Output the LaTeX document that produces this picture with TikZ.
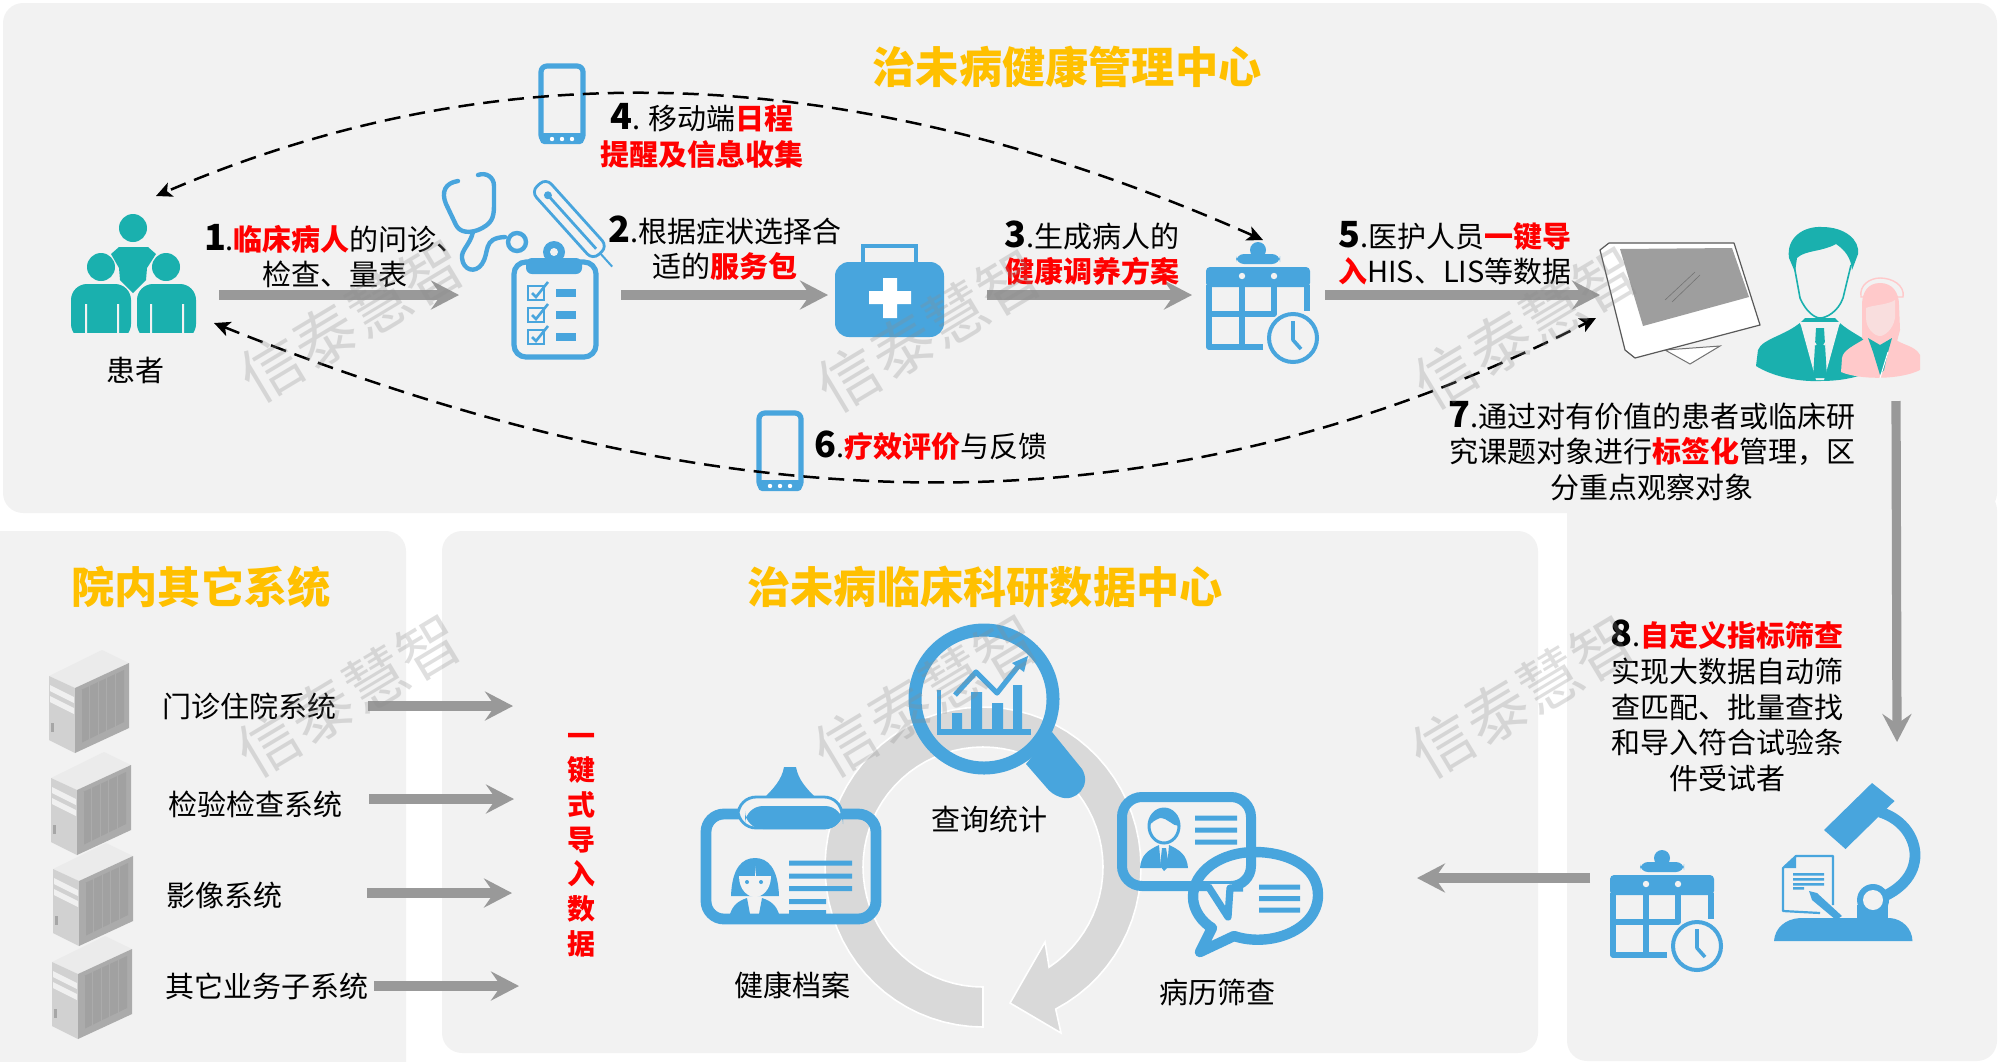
\documentclass[tikz,border=0pt]{standalone}
\usepackage{fontspec}
\setmainfont{Noto Sans CJK SC}
\usetikzlibrary{arrows.meta}
\definecolor{panelc}{HTML}{F2F2F2}
\definecolor{blueic}{HTML}{48A5DD}
\definecolor{tealic}{HTML}{1AB0AE}
\definecolor{pinkic}{HTML}{FFC9CA}
\definecolor{titlec}{HTML}{FFC000}
\definecolor{arrowc}{HTML}{999999}
\definecolor{redc}{HTML}{FF0000}
\newcommand{\hl}[1]{\textcolor{redc}{\bfseries #1}}
\newcommand{\nm}[1]{{\fontsize{18}{18}\selectfont\bfseries #1}}
\tikzset{
 panel/.style={fill=panelc,draw=none,rounded corners=10pt},
 bigarrow/.style={draw=arrowc,line width=4.6pt,-{Stealth[length=14pt,width=14.5pt,inset=5pt]}},
 dasharrow/.style={draw=black,line width=1.25pt,dash pattern=on 8pt off 4.5pt,{Stealth[length=8pt,width=7.5pt,inset=2pt]}-{Stealth[length=8pt,width=7.5pt,inset=2pt]}},
 txt/.style={font=\fontsize{14.5}{17.8}\selectfont,align=center,inner sep=0pt,text=black},
 ttl/.style={font=\fontsize{21.6}{24}\selectfont\bfseries,text=titlec,inner sep=0pt},
 wm/.style={font=\fontsize{31}{34}\selectfont,text=black!45,opacity=.28,rotate=31,inner sep=0pt},
}
\newcommand{\calendaricon}[2]{%
 \begin{scope}[shift={(#1,#2)}]
  \fill[blueic] (1258,250) circle (8);
  \fill[blueic,rounded corners=4pt] (1236,254) rectangle (1280,264);
  \fill[blueic,rounded corners=2pt] (1206,267) rectangle (1310,287);
  \fill[panelc] (1242,276) circle (3.2) (1274,276) circle (3.2);
  \draw[blueic,line width=2.6pt,line join=round] (1263,347) -- (1209,347) -- (1209,285) (1307,285) -- (1307,311)
   (1209,314) -- (1274,314) -- (1274,285) (1242,285) -- (1242,347);
  \draw[blueic,line width=2pt] (1293,338) circle (24);
  \draw[blueic,line width=1.8pt,line join=round] (1293,321) -- (1293,340) -- (1301,349);
 \end{scope}}
\newcommand{\servericon}[2]{%
 \begin{scope}[shift={(#1,#2)}]
  \fill[black!8] (102,650) -- (129,663) -- (75,688) -- (49,676) -- cycle;
  \fill[black!18] (49,676) -- (75,688) -- (75,753) -- (49,740) -- cycle;
  \fill[black!33] (75,688) -- (129,663) -- (129,728) -- (75,753) -- cycle;
  \fill[black!37] (81,690) -- (124,670) -- (124,722) -- (81,743) -- cycle;
  \foreach \k in {0,1,2,3,4} \draw[black!33,line width=.4pt] ({81+\k*8.6},{690-\k*4}) -- ++(0,53);
  \fill[black!6] (50,685) -- (74,697) -- (74,703) -- (50,691) -- cycle;
  \fill[black!6] (50,696) -- (74,708) -- (74,714) -- (50,702) -- cycle;
  \fill[black!35] (51,723) rectangle (54,732);
 \end{scope}}
\newcommand{\phoneicon}[2]{%
 \begin{scope}[shift={(#1,#2)}]
  \draw[blueic,line width=2.6pt,rounded corners=3pt] (541,66) rectangle (583,141);
  \fill[blueic,rounded corners=2pt] (540,133) rectangle (584,144);
  \fill[white] (552,139) circle (2.2) (562,139) circle (2.2) (572,139) circle (2.2);
 \end{scope}}
\begin{document}
\begin{tikzpicture}[x=0.5pt,y=-0.5pt]
\useasboundingbox (0,0) rectangle (2000,1061);
% panels
\fill[panel] (3,3) rectangle (1997,513);
\fill[panel] (1567,490) rectangle (1997,1061);
\fill[panel] (-30,531) rectangle (406,1090);
\fill[panel] (442,531) rectangle (1538,1053);

% connector ends
\coordinate (p1) at (219,295); \coordinate (p1e) at (459,295);
\coordinate (p2) at (621,295); \coordinate (p2e) at (828,295);
\coordinate (p3) at (987,295); \coordinate (p3e) at (1192,295);
\coordinate (p5) at (1325,295); \coordinate (p5e) at (1600,295);
\coordinate (c4s) at (1263,240); \coordinate (c4e) at (156,196);
\coordinate (c6s) at (214,323); \coordinate (c6e) at (1596,318);
\coordinate (dn) at (1896,401); \coordinate (dne) at (1897,742);
\coordinate (lf) at (1590,878); \coordinate (lfe) at (1417,878);
\coordinate (s1) at (368,706); \coordinate (s1e) at (513,706);
\coordinate (s2) at (369,799); \coordinate (s2e) at (514,799);
\coordinate (s3) at (367,893); \coordinate (s3e) at (512,893);
\coordinate (s4) at (374,986); \coordinate (s4e) at (519,986);

% ring
\fill[black!15,draw=white,line width=.8pt] plot[domain=90:422.6,samples=70] ({983+158*cos(\x)},{867+160*sin(\x)})
  -- (1061,1033) -- (1010,1003) -- (1045,942)
  -- plot[domain=416.6:90,samples=70] ({983+120*cos(\x)},{867+120*sin(\x)}) -- cycle;

% gray arrows
\draw[bigarrow] (p1) -- (p1e);
\draw[bigarrow] (p2) -- (p2e);
\draw[bigarrow] (p3) -- (p3e);
\draw[bigarrow] (p5) -- (p5e);
\draw[bigarrow] (dn) -- (dne);
\draw[bigarrow] (lf) -- (lfe);
\draw[bigarrow] (s1) -- (s1e);
\draw[bigarrow] (s2) -- (s2e);
\draw[bigarrow] (s3) -- (s3e);
\draw[bigarrow] (s4) -- (s4e);

% patients
\fill[tealic] (133,228) circle (14) (101,267) circle (14) (166,267) circle (14);
\fill[tealic] (119,247) -- (148,247) -- (156,254) -- (147,268) -- (146,280) -- (133,293) -- (120,280) -- (119,268) -- (111,254) -- cycle;
\fill[tealic,rounded corners=8pt] (71,340) -- (71,284) -- (131,284) -- (131,340) -- cycle;
\fill[tealic,rounded corners=8pt] (137,340) -- (137,284) -- (196,284) -- (196,340) -- cycle;
\fill[panelc] (66,333) rectangle (200,345);
\fill[panelc] (85,304) rectangle (87,333) (117,304) rectangle (119,333) (150,304) rectangle (152,333) (182,304) rectangle (184,333);

% stethoscope
\draw[blueic,line width=2.2pt,line cap=round,line join=round]
  (458,181) .. controls (445,183) and (441,192) .. (446,204) -- (456,225) .. controls (460,233) and (470,233) .. (478,230)
  .. controls (492,224) and (494,218) .. (494,205) -- (494,186) .. controls (494,177) and (486,172) .. (478,175)
  (473,232) .. controls (470,245) and (461,250) .. (462,258) .. controls (463,270) and (475,274) .. (482,264)
  .. controls (490,252) and (482,238) .. (505,237);
\draw[blueic,line width=2.2pt] (517,242) circle (9);
% thermometer
\begin{scope}[shift={(572,222)},rotate=-48]
 \draw[blueic,line width=1.4pt,rounded corners=4pt,fill=panelc] (-50,-10) rectangle (42,10);
 \fill[blueic] (-36,0) circle (4);
 \draw[blueic,line width=1.4pt] (-36,0) -- (36,0);
 \draw[blueic,line width=1pt] (42,0) -- (60,0);
\end{scope}
% clipboard
\draw[blueic,line width=2.6pt,rounded corners=6pt,fill=panelc] (514,262) rectangle (596,357);
\fill[blueic] (554,252) circle (11);
\fill[blueic,rounded corners=3pt] (526,258) rectangle (582,274);
\fill[panelc] (554,252) circle (4);
\foreach \yy in {293,315,337}{
 \draw[blueic,line width=1pt] (528,\yy-7) rectangle (544,\yy+7);
 \draw[blueic,line width=1.3pt] (532,\yy) -- (536,\yy+4) -- (548,\yy-11);
 \fill[blueic] (556,\yy-4) rectangle (576,\yy+4);
}
% medkit
\draw[blueic,line width=2.2pt] (863,262) -- (863,246) -- (916,246) -- (916,262);
\fill[blueic,rounded corners=7pt] (835,262) rectangle (944,337);
\fill[white] (883,278) rectangle (897,318) (869,291) rectangle (911,304);
% calendars
\calendaricon{0}{0}
\calendaricon{404}{608}
% phones
\phoneicon{0}{0}
\phoneicon{218}{347}
% monitor
\draw[black!55,fill=white,line width=.5pt] (1665,350) -- (1720,346) -- (1690,364) -- cycle;
\draw[black!65,fill=white,line width=.6pt,line join=round] (1600,250) -- (1609,243) -- (1734,243) -- (1760,325) -- (1635,358) -- (1625,350) -- cycle;
\fill[black!38] (1620,249) -- (1732,248) -- (1749,297) -- (1643,326) -- cycle;
\draw[black!55,line width=.3pt] (1665,300) -- (1695,272) (1672,302) -- (1700,275);
% doctor
\fill[tealic] (1805,318) .. controls (1790,335) and (1762,338) .. (1758,350) -- (1756,366) .. controls (1770,375) and (1795,382) .. (1820,381) .. controls (1840,381) and (1855,378) .. (1870,372) -- (1872,345) .. controls (1860,335) and (1845,330) .. (1835,318) -- cycle;
\fill[panelc] (1800,322) -- (1840,322) -- (1824,380) -- (1816,380) -- cycle;
\fill[tealic] (1816,328) -- (1824,328) -- (1827,378) -- (1813,378) -- cycle;
\draw[tealic,line width=.8pt] (1794,265) -- (1800,298) .. controls (1806,312) and (1815,318) .. (1820,318) .. controls (1826,318) and (1838,312) .. (1843,298) -- (1851,265);
\draw[panelc,line width=.8pt] (1800,322) -- (1816,345) (1840,322) -- (1824,345);
\fill[tealic] (1789,258) .. controls (1786,238) and (1803,226) .. (1822,227) .. controls (1845,227) and (1860,240) .. (1858,254) -- (1852,270) .. controls (1851,258) and (1845,250) .. (1836,244) .. controls (1822,252) and (1805,250) .. (1797,258) -- (1795,272) -- cycle;
% nurse
\draw[pinkic,line width=.7pt] (1861,297) .. controls (1859,285) and (1870,278) .. (1880,278) .. controls (1892,278) and (1905,285) .. (1903,297) -- cycle;
\fill[pinkic] (1880,283) .. controls (1868,283) and (1862,292) .. (1862,305) -- (1862,338) -- (1868,345) -- (1896,345) -- (1900,330) -- (1899,305) .. controls (1899,292) and (1892,283) .. (1880,283) -- cycle;
\fill[panelc!50!pinkic] (1866,308) .. controls (1872,305) and (1888,305) .. (1895,300) -- (1895,318) .. controls (1893,330) and (1884,336) .. (1880,336) .. controls (1874,336) and (1866,328) .. (1866,318) -- cycle;
\fill[pinkic] (1866,338) .. controls (1855,345) and (1843,350) .. (1842,358) -- (1841,372) .. controls (1860,380) and (1900,380) .. (1920,370) -- (1920,355) .. controls (1915,345) and (1900,345) .. (1894,338) -- cycle;
\fill[tealic] (1868,338) -- (1880,345) -- (1892,338) -- (1888,352) -- (1884,370) -- (1880,375) -- (1873,352) -- cycle;
\draw[white,line width=.5pt] (1880,378) -- (1888,352);

% servers
\servericon{0}{0}
\servericon{2}{102}
\servericon{4}{193}
\servericon{3}{286}

% magnifier
\fill[blueic,line join=round] (1026,764) -- (1052,732) -- (1082,769) .. controls (1092,785) and (1076,803) .. (1060,797) .. controls (1054,795) and (1050,792) .. (1046,787) -- cycle;
\draw[blueic,line width=6.5pt] (984,699) circle (69);
\fill[blueic] (937,729) rectangle (1031,735);
\fill[blueic] (937,690) rectangle (941,731);
\fill[blueic] (952,713) rectangle (962,731) (971,692) rectangle (982,731) (992,703) rectangle (1003,731) (1013,685) rectangle (1022,731);
\draw[blueic,line width=2.6pt,line join=round] (955,695) -- (976,672) -- (997,693) -- (1020,664);
\fill[blueic] (1028,656) -- (1012,663) -- (1024,672) -- cycle;

% id card left
\draw[blueic,line width=5.4pt,rounded corners=9pt] (706,814) rectangle (876,919);
\fill[blueic] (784,767) -- (796,767) .. controls (798,780) and (808,790) .. (816,798) -- (764,798) .. controls (772,790) and (782,780) .. (784,767) -- cycle;
\fill[panelc,rounded corners=9pt] (738,797) rectangle (842,828);
\draw[blueic,line width=1.4pt,rounded corners=9pt] (738,797) rectangle (842,828);
\fill[blueic,rounded corners=9pt] (745,806) rectangle (843,829);
\fill[blueic] (755,858) .. controls (768,858) and (778,868) .. (779,896) -- (731,896) .. controls (732,868) and (742,858) .. (755,858) -- cycle;
\fill[panelc] (755,876) -- (739,876) .. controls (739,890) and (748,897) .. (755,897) .. controls (762,897) and (771,890) .. (771,876) -- (756,876) -- (755,866) -- cycle;
\fill[blueic] (747,882) circle (2) (761,882) circle (2);
\fill[blueic] (730,914) .. controls (733,905) and (738,901) .. (747,898) -- (750,914) -- cycle;
\fill[blueic] (779,914) .. controls (776,905) and (771,901) .. (762,898) -- (759,914) -- cycle;
\fill[blueic] (789,860.5) rectangle (852,865.5) (789,873.5) rectangle (852,878.5) (789,886) rectangle (852,891) (789,899) rectangle (826,904) (789,910) rectangle (826,915);

% id card right
\draw[blueic,line width=5pt,rounded corners=10pt] (1122,797) rectangle (1251,886);
\draw[blueic,line width=1.5pt] (1164,826) ellipse (15 and 17);
\fill[blueic] (1149,826) .. controls (1149,812) and (1158,809) .. (1164,809) .. controls (1172,809) and (1179,814) .. (1179,826) .. controls (1172,826) and (1168,818) .. (1160,818) .. controls (1155,820) and (1152,822) .. (1149,826) -- cycle;
\fill[blueic] (1140,868) .. controls (1141,855) and (1148,850) .. (1159,845) -- (1161,868) -- cycle;
\fill[blueic] (1188,868) .. controls (1187,855) and (1180,850) .. (1169,845) -- (1167,868) -- cycle;
\fill[blueic] (1162,848) -- (1166,848) -- (1169,866) -- (1164,871) -- (1160,866) -- cycle;
\fill[blueic] (1195,815.5) rectangle (1237,820.5) (1195,827.5) rectangle (1237,832.5) (1195,839.5) rectangle (1237,844.5);
\draw[blueic,line width=5.2pt,line join=round] (1206,940) -- (1200,952) -- (1234,936) .. controls (1270,948) and (1318,930) .. (1318,895) .. controls (1318,865) and (1285,852) .. (1255,852) .. controls (1220,852) and (1193,872) .. (1193,897) .. controls (1193,910) and (1202,922) .. (1212,928) -- (1200,952);
\fill[panelc] (1210,884) -- (1232,884) -- (1228,915) -- cycle;
\draw[blueic,line width=3.6pt,line join=round] (1208,886) -- (1228,917) -- (1230,888) -- (1243,888);
\fill[blueic] (1259,884.5) rectangle (1300,889.5) (1259,896) rectangle (1300,901) (1259,907.5) rectangle (1300,912.5);

% microscope
\fill[blueic] (1872,783) -- (1894.5,801) -- (1845.5,849) -- (1824,830) -- cycle;
\draw[blueic,line width=5.4pt] (1880,812) .. controls (1905,820) and (1915,840) .. (1915,855) .. controls (1915,875) and (1900,890) .. (1880,898);
\fill[blueic] (1856.5,905) rectangle (1888,925);
\fill[blueic] (1873,900) circle (16);
\fill[panelc] (1873,900) circle (10);
\fill[blueic] (1774,941) .. controls (1775,928) and (1785,919) .. (1800,918) -- (1890,918) .. controls (1902,919) and (1912,928) .. (1912.5,941) -- cycle;
\draw[blueic,line width=1.1pt,line join=round] (1833,905) -- (1833,856) -- (1796,856) -- (1783,868) -- (1783,911) -- (1820,913);
\fill[blueic] (1796,856) -- (1796,868) -- (1783,868) -- cycle;
\fill[blueic] (1793,873) rectangle (1824,875.5) (1793,878) rectangle (1824,880.5) (1793,883) rectangle (1824,885.5) (1793,887) rectangle (1804,889.5);
\fill[blueic] (1809,891) -- (1817,893) -- (1842,916) -- (1836,920) -- (1812,900) -- cycle;

% dashed curves
\draw[dasharrow] (c4s) .. controls (800,35) and (450,70) .. (c4e);
\draw[dasharrow] (c6s) .. controls (620,485) and (1080,580) .. (c6e);

% texts
\node[ttl] (t0) at (1067,67) {治未病健康管理中心};
\node[ttl] (t1) at (201,587) {院内其它系统};
\node[ttl] (t2) at (985,587) {治未病临床科研数据中心};
\node[txt] (n0) at (135,370) {患者};
\node[txt] (n1) at (335,256) {\nm{1}.\hl{临床病人}的问诊、\\检查、量表};
\node[txt] (n2) at (725,248) {\nm{2}.根据症状选择合\\适的\hl{服务包}};
\node[txt] (n3) at (1092,253) {\nm{3}.生成病人的\\\hl{健康调养方案}};
\node[txt] (n4) at (702,136) {\nm{4}. 移动端\hl{日程}\\\hl{提醒及信息收集}};
\node[txt] (n5) at (1455,253) {\nm{5}.医护人员\hl{一键导}\\\hl{入}HIS、LIS等数据};
\node[txt] (n6) at (931,446) {\nm{6}.\hl{疗效评价}与反馈};
\node[txt] (n7) at (1652,451) {\nm{7}.通过对有价值的患者或临床研\\究课题对象进行\hl{标签化}管理，区\\分重点观察对象};
\node[txt] (n8) at (1727,706) {\nm{8}.\hl{自定义指标筛查}\\实现大数据自动筛\\查匹配、批量查找\\和导入符合试验条\\件受试者};
\node[txt] (m1) at (249,706) {门诊住院系统};
\node[txt] (m2) at (255,804) {检验检查系统};
\node[txt] (m3) at (224,895) {影像系统};
\node[txt] (m4) at (267,986) {其它业务子系统};
\node[txt] (k1) at (989,819) {查询统计};
\node[txt] (k2) at (792,985) {健康档案};
\node[txt] (k3) at (1217,992) {病历筛查};
\node[txt,font=\fontsize{14}{17.35}\selectfont] (v1) at (581,845) {\hl{一}\\\hl{键}\\\hl{式}\\\hl{导}\\\hl{入}\\\hl{数}\\\hl{据}};

% watermark
\node[wm] (w1) at (352,320) {信泰慧智};
\node[wm] (w2) at (929,330) {信泰慧智};
\node[wm] (w3) at (1526,327) {信泰慧智};
\node[wm] (w4) at (349,695) {信泰慧智};
\node[wm] (w5) at (926,695) {信泰慧智};
\node[wm] (w6) at (1523,696) {信泰慧智};
\end{tikzpicture}
\end{document}
